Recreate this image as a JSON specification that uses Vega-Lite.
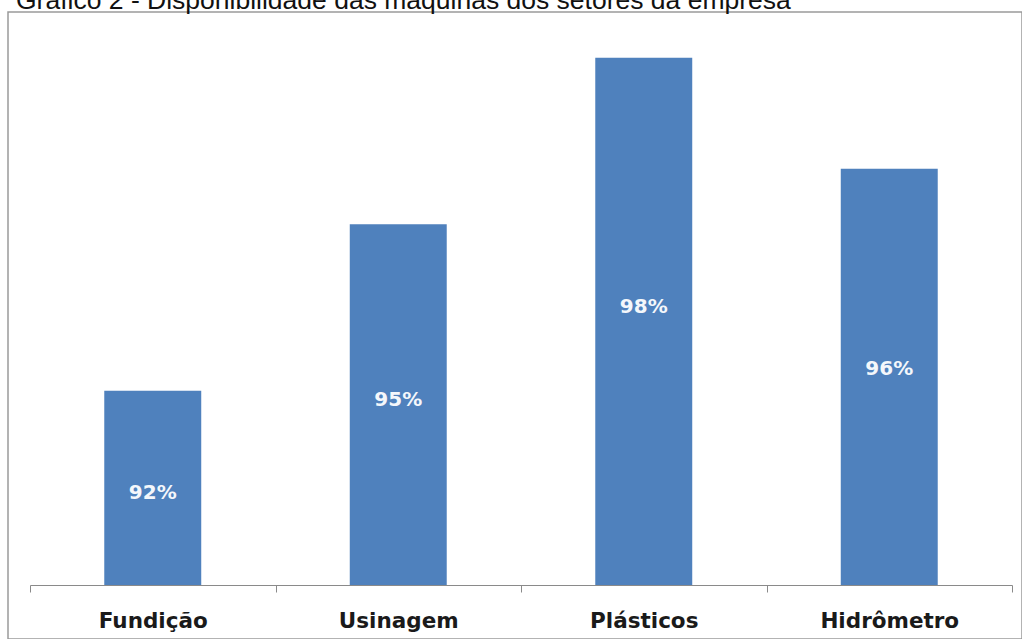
{
  "$schema": "https://vega.github.io/schema/vega-lite/v6.json",
  "autosize": {"type": "none"},
  "width": 1014,
  "height": 627,
  "padding": {"left": 8, "top": 12, "right": 0, "bottom": 0},
  "background": "white",
  "title": {
    "text": "Gráfico 2 - Disponibilidade das máquinas dos setores da empresa",
    "anchor": "start",
    "frame": "group",
    "font": "Liberation Sans",
    "fontSize": 26.5,
    "fontWeight": "normal",
    "color": "#111111",
    "baseline": "alphabetic",
    "offset": -23,
    "dx": 8
  },
  "config": {
    "view": {"stroke": "#9a9a9a", "strokeWidth": 1.5}
  },
  "data": {
    "values": [
      {"setor": "Fundição", "disponibilidade": 0.92},
      {"setor": "Usinagem", "disponibilidade": 0.95},
      {"setor": "Plásticos", "disponibilidade": 0.98},
      {"setor": "Hidrômetro", "disponibilidade": 0.96}
    ]
  },
  "encoding": {
    "x": {
      "field": "setor",
      "type": "nominal",
      "sort": null,
      "scale": {"range": [22, 1004], "paddingInner": 0, "paddingOuter": 0},
      "axis": {
        "title": null,
        "orient": "bottom",
        "offset": -54,
        "labelAngle": 0,
        "tickBand": "extent",
        "tickSize": 7,
        "tickColor": "#8a8a8a",
        "domainColor": "#8a8a8a",
        "domainWidth": 1.2,
        "grid": false,
        "labelFont": "DejaVu Sans",
        "labelFontWeight": "bold",
        "labelFontSize": 21.5,
        "labelColor": "#1a1a1a",
        "labelBaseline": "alphabetic",
        "labelPadding": 35
      }
    },
    "y": {
      "field": "disponibilidade",
      "type": "quantitative",
      "scale": {"domain": [0.885, 0.985], "range": [573, 18], "zero": false, "nice": false},
      "axis": null
    }
  },
  "layer": [
    {
      "mark": {"type": "bar", "color": "#4F81BD", "width": {"band": 0.395}},
      "encoding": {"y2": {"datum": 0.885}}
    },
    {
      "mark": {
        "type": "text",
        "color": "#f4f7fb",
        "font": "DejaVu Sans",
        "fontWeight": "bold",
        "fontSize": 20,
        "baseline": "middle",
        "align": "center",
        "dy": {"expr": "17 + 0.441 * (scale('y', 0.885) - scale('y', datum.disponibilidade))"}
      },
      "encoding": {
        "text": {"field": "disponibilidade", "type": "quantitative", "format": ".0%"}
      }
    }
  ]
}
